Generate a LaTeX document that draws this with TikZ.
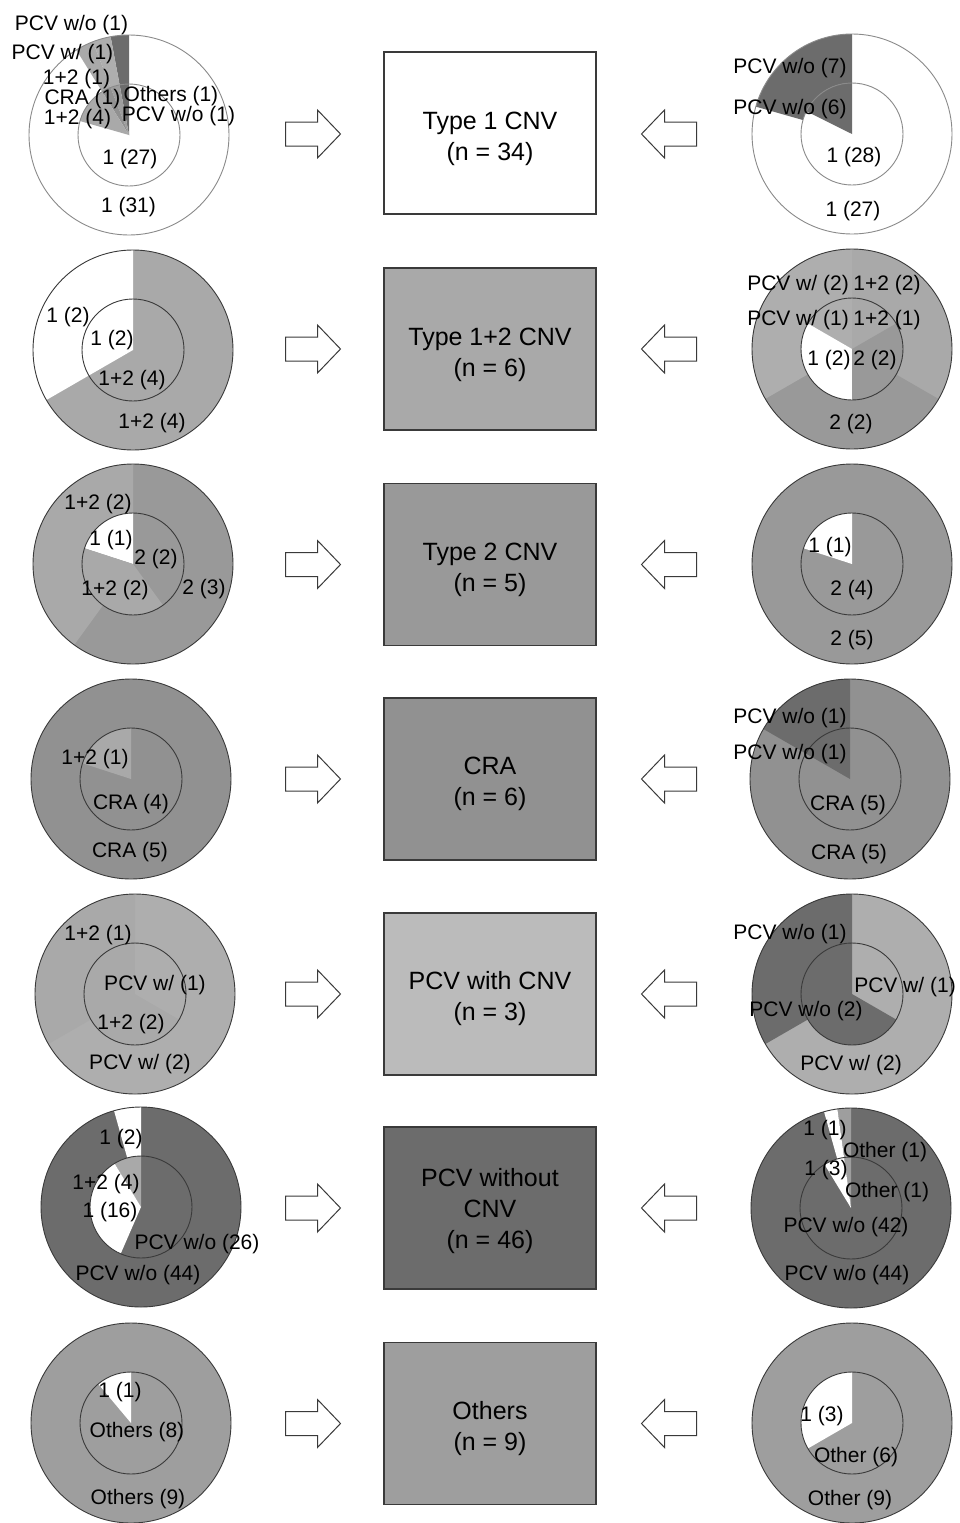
\documentclass[tikz,border=0pt]{standalone}
\usepackage{fontspec}
\setmainfont{Liberation Sans}
\definecolor{cA}{HTML}{A9A9A9} % 1+2
\definecolor{cB}{HTML}{999999} % 2
\definecolor{cC}{HTML}{919191} % CRA
\definecolor{cD}{HTML}{AEAEAE} % PCV w/ (in donuts)
\definecolor{cDbox}{HTML}{BBBBBB} % PCV w/ box
\definecolor{cE}{HTML}{6C6C6C} % PCV w/o
\definecolor{cF}{HTML}{9E9E9E} % Others
\definecolor{ln}{HTML}{3A3A3A}
\definecolor{lnlight}{HTML}{8A8A8A}
\newcommand{\pieslice}[4]{\fill[#4] (0,0) -- (#1:#3) arc[start angle=#1, end angle=#2, radius=#3] -- cycle;}
\newcommand{\disk}[2]{\fill[#2] (0,0) circle[radius=#1];}
\newcommand{\rings}[1]{\draw[ring,#1] (0,0) circle[radius=100]; \draw[ring,#1] (0,0) circle[radius=51];}
\tikzset{
  lbl/.style={inner sep=0pt, text height=15pt, text depth=0pt, font=\fontsize{21}{25}\selectfont},
  box/.style={draw=ln, line width=1.2pt, minimum width=212pt, minimum height=162pt, inner sep=0pt},
  boxtext/.style={align=center, inner sep=0pt, font=\fontsize{25}{31}\selectfont},
  ring/.style={draw=ln, line width=0.9pt},
  arrowsty/.style={draw=ln, fill=white, line width=1pt, line join=miter},
  rarrow/.pic={\draw[arrowsty] (-27,-12) -- (5,-12) -- (5,-24) -- (28,0) -- (5,24) -- (5,12) -- (-27,12) -- cycle;}
}
\begin{document}
\begin{tikzpicture}[x=1pt,y=-1pt]
\useasboundingbox (0,0) rectangle (960,1523);
\fill[white] (0,0) rectangle (960,1523);

% ---------- boxes ----------
\node[box, fill=white] (b1) at (490,133) {};
\node[box, fill=cA] (b2) at (490,349) {};
\node[box, fill=cB] (b3) at (490,564.5) {};
\node[box, fill=cC] (b4) at (490,779) {};
\node[box, fill=cDbox] (b5) at (490,994) {};
\node[box, fill=cE] (b6) at (490,1208) {};
\node[box, fill=cF] (b7) at (490,1423.5) {};
\node[boxtext] (t1) at ([yshift=-5.5pt]b1.center) {Type 1 CNV\\(n = 34)};
\node[boxtext] (t2) at ([yshift=-5.5pt]b2.center) {Type 1+2 CNV\\(n = 6)};
\node[boxtext] (t3) at ([yshift=-5pt]b3.center) {Type 2 CNV\\(n = 5)};
\node[boxtext] (t4) at ([yshift=-5pt]b4.center) {CRA\\(n = 6)};
\node[boxtext] (t5) at ([yshift=-5pt]b5.center) {PCV with CNV\\(n = 3)};
\node[boxtext] (t6) at ([yshift=-3.5pt]b6.center) {PCV without\\CNV\\(n = 46)};
\node[boxtext] (t7) at ([yshift=-5pt]b7.center) {Others\\(n = 9)};

% ---------- block arrows ----------
\foreach \yy in {134,349,564.5,779,994,1208,1423.5}{
  \pic at (312.5,\yy) {rarrow};
  \pic[xscale=-1] at (669.5,\yy) {rarrow};
}

% ---------- row 1 ----------
\begin{scope}[shift={(129,135)}, yscale=-1]
  \disk{100}{white}
  \pieslice{90}{100.59}{100}{cE}
  \pieslice{100.59}{111.18}{100}{cD}
  \pieslice{111.18}{121.76}{100}{cA}
  \disk{51}{white}
  \pieslice{90}{100.59}{51}{cE}
  \pieslice{100.59}{111.18}{51}{cF}
  \pieslice{111.18}{121.76}{51}{cC}
  \pieslice{121.76}{164.12}{51}{cA}
  \rings{draw=lnlight}
\end{scope}
\begin{scope}[shift={(852,134)}, yscale=-1]
  \disk{100}{white}
  \pieslice{90}{164.12}{100}{cE}
  \disk{51}{white}
  \pieslice{90}{153.53}{51}{cE}
  \rings{draw=lnlight}
\end{scope}
\node[lbl] (l1a) at (71.5,23) {PCV w/o (1)};
\node[lbl] (l1b) at (62.5,52) {PCV w/ (1)};
\node[lbl] (l1c) at (76.5,77) {1+2 (1)};
\node[lbl] (l1d) at (82.5,97) {CRA (1)};
\node[lbl] (l1e) at (171,94) {Others (1)};
\node[lbl] (l1f) at (77.5,117) {1+2 (4)};
\node[lbl] (l1g) at (178.5,114) {PCV w/o (1)};
\node[lbl] (l1h) at (130,157) {1 (27)};
\node[lbl] (l1i) at (128.5,205) {1 (31)};
\node[lbl] (r1a) at (790,66) {PCV w/o (7)};
\node[lbl] (r1b) at (790,107) {PCV w/o (6)};
\node[lbl] (r1c) at (854,155) {1 (28)};
\node[lbl] (r1d) at (853,209) {1 (27)};

% ---------- row 2 ----------
\begin{scope}[shift={(133,350)}, yscale=-1]
  \disk{100}{cA}
  \pieslice{90}{210}{100}{white}
  \disk{51}{cA}
  \pieslice{90}{210}{51}{white}
  \rings{}
\end{scope}
\begin{scope}[shift={(852,349)}, yscale=-1]
  \disk{100}{cA}
  \pieslice{90}{210}{100}{cD}
  \pieslice{210}{330}{100}{cB}
  \disk{51}{cA}
  \pieslice{90}{150}{51}{cD}
  \pieslice{150}{270}{51}{white}
  \pieslice{270}{390}{51}{cB}
  \rings{}
\end{scope}
\node[lbl] (l2a) at (68,315) {1 (2)};
\node[lbl] (l2b) at (112,338) {1 (2)};
\node[lbl] (l2c) at (132,378) {1+2 (4)};
\node[lbl] (l2d) at (152,421) {1+2 (4)};
\node[lbl] (r2a) at (798,283) {PCV w/ (2)};
\node[lbl] (r2b) at (887,283) {1+2 (2)};
\node[lbl] (r2c) at (798,318) {PCV w/ (1)};
\node[lbl] (r2d) at (887,318) {1+2 (1)};
\node[lbl] (r2e) at (829,358) {1 (2)};
\node[lbl] (r2f) at (875,358) {2 (2)};
\node[lbl] (r2g) at (851,422) {2 (2)};

% ---------- row 3 ----------
\begin{scope}[shift={(133,564)}, yscale=-1]
  \disk{100}{cB}
  \pieslice{90}{234}{100}{cA}
  \disk{51}{cB}
  \pieslice{90}{162}{51}{white}
  \pieslice{162}{306}{51}{cA}
  \rings{}
\end{scope}
\begin{scope}[shift={(852,564)}, yscale=-1]
  \disk{100}{cB}
  \disk{51}{cB}
  \pieslice{90}{162}{51}{white}
  \rings{}
\end{scope}
\node[lbl] (l3a) at (98,502) {1+2 (2)};
\node[lbl] (l3b) at (111,538) {1 (1)};
\node[lbl] (l3c) at (156,557) {2 (2)};
\node[lbl] (l3d) at (115,588) {1+2 (2)};
\node[lbl] (l3e) at (204,587) {2 (3)};
\node[lbl] (r3a) at (830,545) {1 (1)};
\node[lbl] (r3b) at (852,588) {2 (4)};
\node[lbl] (r3c) at (852,638) {2 (5)};

% ---------- row 4 ----------
\begin{scope}[shift={(131,779)}, yscale=-1]
  \disk{100}{cC}
  \disk{51}{cC}
  \pieslice{90}{162}{51}{cA}
  \rings{}
\end{scope}
\begin{scope}[shift={(850,779)}, yscale=-1]
  \disk{100}{cC}
  \pieslice{90}{150}{100}{cE}
  \disk{51}{cC}
  \pieslice{90}{150}{51}{cE}
  \rings{}
\end{scope}
\node[lbl] (l4a) at (95,757) {1+2 (1)};
\node[lbl] (l4b) at (131,802) {CRA (4)};
\node[lbl] (l4c) at (130,850) {CRA (5)};
\node[lbl] (r4a) at (790,716) {PCV w/o (1)};
\node[lbl] (r4b) at (790,752) {PCV w/o (1)};
\node[lbl] (r4c) at (848,803) {CRA (5)};
\node[lbl] (r4d) at (849,852) {CRA (5)};

% ---------- row 5 ----------
\begin{scope}[shift={(135,994)}, yscale=-1]
  \disk{100}{cD}
  \pieslice{90}{210}{100}{cA}
  \disk{51}{cA}
  \pieslice{330}{450}{51}{cD}
  \rings{}
\end{scope}
\begin{scope}[shift={(852,994)}, yscale=-1]
  \disk{100}{cD}
  \pieslice{90}{210}{100}{cE}
  \disk{51}{cD}
  \pieslice{90}{330}{51}{cE}
  \rings{}
\end{scope}
\node[lbl] (l5a) at (98,933) {1+2 (1)};
\node[lbl] (l5b) at (155,983) {PCV w/ (1)};
\node[lbl] (l5c) at (131,1022) {1+2 (2)};
\node[lbl] (l5d) at (140,1062) {PCV w/ (2)};
\node[lbl] (r5a) at (790,932) {PCV w/o (1)};
\node[lbl] (r5b) at (905,985) {PCV w/ (1)};
\node[lbl] (r5c) at (806,1009) {PCV w/o (2)};
\node[lbl] (r5d) at (851,1063) {PCV w/ (2)};

% ---------- row 6 ----------
\begin{scope}[shift={(141,1207)}, yscale=-1]
  \disk{100}{cE}
  \pieslice{90}{105.65}{100}{white}
  \disk{51}{cE}
  \pieslice{90}{121.3}{51}{cA}
  \pieslice{121.3}{246.5}{51}{white}
  \rings{}
\end{scope}
\begin{scope}[shift={(851,1208)}, yscale=-1]
  \disk{100}{cE}
  \pieslice{90}{97.83}{100}{cF}
  \pieslice{97.83}{105.65}{100}{white}
  \disk{51}{cE}
  \pieslice{90}{97.83}{51}{cF}
  \pieslice{97.83}{121.3}{51}{white}
  \rings{}
\end{scope}
\node[lbl] (l6a) at (121,1137) {1 (2)};
\node[lbl] (l6b) at (106,1182) {1+2 (4)};
\node[lbl] (l6c) at (110,1210) {1 (16)};
\node[lbl] (l6d) at (197,1242) {PCV w/o (26)};
\node[lbl] (l6e) at (138,1273) {PCV w/o (44)};
\node[lbl] (r6a) at (825,1128) {1 (1)};
\node[lbl] (r6b) at (885,1150) {Other (1)};
\node[lbl] (r6c) at (826,1168) {1 (3)};
\node[lbl] (r6d) at (887,1190) {Other (1)};
\node[lbl] (r6e) at (846,1225) {PCV w/o (42)};
\node[lbl] (r6f) at (847,1273) {PCV w/o (44)};

% ---------- row 7 ----------
\begin{scope}[shift={(131,1423)}, yscale=-1]
  \disk{100}{cF}
  \disk{51}{cF}
  \pieslice{90}{130}{51}{white}
  \rings{}
\end{scope}
\begin{scope}[shift={(852,1423)}, yscale=-1]
  \disk{100}{cF}
  \disk{51}{cF}
  \pieslice{90}{210}{51}{white}
  \rings{}
\end{scope}
\node[lbl] (l7a) at (120,1390) {1 (1)};
\node[lbl] (l7b) at (137,1430) {Others (8)};
\node[lbl] (l7c) at (138,1497) {Others (9)};
\node[lbl] (r7a) at (822,1414) {1 (3)};
\node[lbl] (r7b) at (856,1455) {Other (6)};
\node[lbl] (r7c) at (850,1498) {Other (9)};
\end{tikzpicture}
\end{document}
